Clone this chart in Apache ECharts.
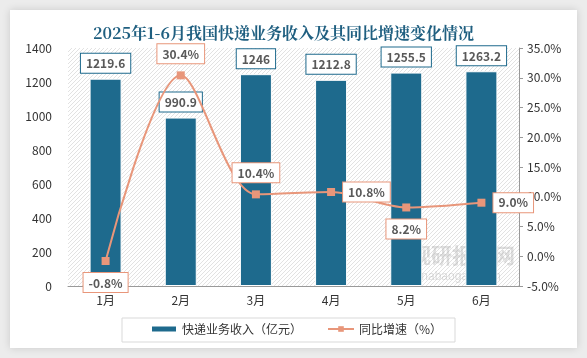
<!DOCTYPE html>
<html><head><meta charset="utf-8">
<script src="https://cdn.jsdelivr.net/npm/echarts@6/dist/echarts.min.js"></script>
<style>html,body{margin:0;padding:0;background:#ececec;}#c{width:587px;height:358px;}</style>
</head><body><div id="c"></div>
<script>
const categories = ['1月','2月','3月','4月','5月','6月'];
const revenue = [1219.6, 990.9, 1246, 1212.8, 1255.5, 1263.2];
const growth = [-0.8, 30.4, 10.4, 10.8, 8.2, 9.0];
const growthLabelPos = ['bottom','top','top','right','bottom','right'];

const pc = document.createElement('canvas');
pc.width = 4; pc.height = 4;
const g = pc.getContext('2d');
g.fillStyle = '#ffffff'; g.fillRect(0,0,4,4);
g.strokeStyle = '#e2e2e2'; g.lineWidth = 1;
g.beginPath(); g.moveTo(0,4); g.lineTo(4,0); g.stroke();
g.beginPath(); g.moveTo(-1,1); g.lineTo(1,-1); g.stroke();
g.beginPath(); g.moveTo(3,5); g.lineTo(5,3); g.stroke();

const chart = echarts.init(document.getElementById('c'));
const font = '"Microsoft YaHei","Noto Sans CJK SC",sans-serif';
chart.setOption({
  backgroundColor: '#ececec',
  animation: false,
  textStyle: {fontFamily: font},
  graphic: [
    {type:'rect', z:-10, shape:{x:10,y:10,width:567,height:338}, style:{fill:'#fff', shadowBlur:8, shadowColor:'rgba(0,0,0,0.15)'}},
    {type:'rect', z:-5, shape:{x:122,y:318,width:333,height:24}, style:{fill:'none', stroke:'#d9d9d9', lineWidth:1}},
    {type:'text', z:1, left:410, top:245, style:{text:'观研报告网', fill:'rgba(160,160,160,0.35)', font:'bold 21px "Noto Sans CJK SC"'}},
    {type:'text', z:1, left:406, top:271, style:{text:'chinabaogao.com', fill:'rgba(160,160,160,0.35)', font:'12px sans-serif'}}
  ],
  title: {
    text: '2025年1-6月我国快递业务收入及其同比增速变化情况',
    left: 88, top: 20,
    textStyle: {fontSize: 16, fontWeight: 'bold', color: '#1f5f80', fontFamily: '"Noto Serif CJK SC","Noto Sans CJK SC",serif'}
  },
  grid: {left: 68, right: 68, top: 48, bottom: 72, show: true, borderWidth: 0,
    backgroundColor: {image: pc, repeat: 'repeat'}},
  legend: {
    bottom: 18, left: 145, itemGap: 25, itemWidth: 26, itemHeight: 7,
    textStyle: {fontSize: 12, color: '#333'},
    data: [
      {name: '快递业务收入（亿元）', icon: 'rect'},
      {name: '同比增速（%）'}
    ]
  },
  xAxis: {
    type: 'category', data: categories,
    axisLine: {lineStyle: {color: '#999'}},
    axisTick: {show: false},
    axisLabel: {color: '#333', fontSize: 12, margin: 8}
  },
  yAxis: [
    {type: 'value', min: 0, max: 1400, interval: 200,
      axisLine: {show: false}, axisTick: {show: false}, splitLine: {show: false},
      axisLabel: {color: '#333', fontSize: 12, margin: 16, formatter: v => String(v)}},
    {type: 'value', min: -5, max: 35, interval: 5,
      axisLine: {show: true, lineStyle: {color: '#999'}},
      axisTick: {show: true, length: 4, lineStyle: {color: '#999'}},
      splitLine: {show: false},
      axisLabel: {color: '#333', fontSize: 12, margin: 8, formatter: v => v.toFixed(1) + '%'}}
  ],
  series: [
    {name: '快递业务收入（亿元）', type: 'bar', data: revenue, barWidth: 32,
      itemStyle: {color: '#1e6a8d', borderColor: '#fff', borderWidth: 1},
      label: {show: true, position: 'top', distance: 6, color: '#595959', fontWeight: 'bold', fontSize: 12,
        backgroundColor: '#fff', borderColor: '#1e6a8d', borderWidth: 1, padding: [4,5,3,5]}},
    {name: '同比增速（%）', type: 'line', yAxisIndex: 1, smooth: 0.3,
      data: growth.map((v,i) => ({value: v, label: {position: growthLabelPos[i]}})),
      symbol: 'rect', symbolSize: 8,
      lineStyle: {color: '#e8967a', width: 2},
      itemStyle: {color: '#e8967a'},
      label: {show: true, distance: 8, color: '#595959', fontWeight: 'bold', fontSize: 12,
        backgroundColor: '#fff', borderColor: '#e8967a', borderWidth: 1, padding: [4,5,3,5],
        formatter: p => p.value.toFixed(1) + '%'}}
  ]
});
</script></body></html>
